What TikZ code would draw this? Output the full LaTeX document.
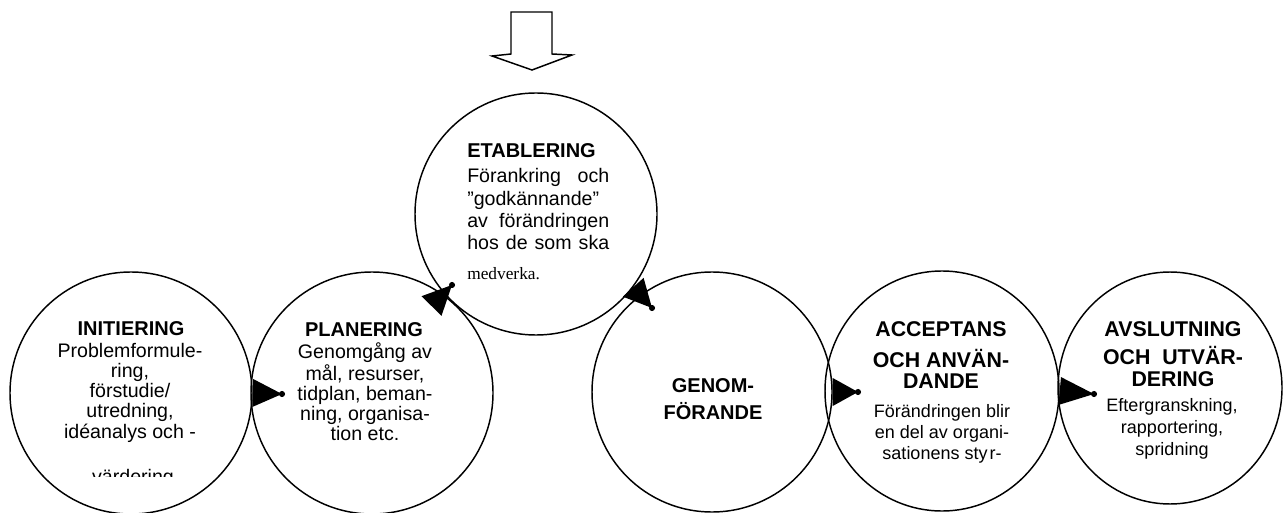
\documentclass[tikz,border=0pt]{standalone}
\usepackage{fontspec}
\setmainfont{Liberation Sans}
\newfontfamily\serifface{Liberation Serif}
\usetikzlibrary{shapes.geometric,calc}

% stacked lines, baseline of the node = baseline of the first line
\newcommand\clines[1]{\begin{tabular}[t]{@{}c@{}}#1\end{tabular}}
\newcommand\llines[1]{\begin{tabular}[t]{@{}l@{}}#1\end{tabular}}
% filled triangle from a base centre to a tip, with a dot at the tip
\newcommand\flowtri[2]{%
  \fill ($(#1)!10.5pt!90:(#2)$) -- ($(#1)!10.5pt!-90:(#2)$) -- (#2) -- cycle;
  \fill (#2) circle (2.3pt);
}

\tikzset{
  phase/.style={draw, ellipse, line width=1.1pt, inner sep=0pt},
  ttl/.style={font=\fontsize{15}{15}\selectfont\bfseries, inner sep=0pt},
  bigttl/.style={font=\fontsize{16}{15.75}\selectfont\bfseries, inner sep=0pt},
  txt/.style={font=\fontsize{14.7}{14.85}\selectfont, inner sep=0pt},
  smalltxt/.style={font=\fontsize{13.5}{15.75}\selectfont, inner sep=0pt},
  inarrow/.style={draw, line width=1.1pt, line join=miter, fill=white},
}

\begin{document}
\begin{tikzpicture}[x=0.75pt, y=-0.75pt]
\clip (0,0) rectangle (1284,513);

% the six phases
\node[phase, minimum width=181.5pt, minimum height=181.5pt] (ini) at (131,393) {};
\node[phase, minimum width=181.5pt, minimum height=181.5pt] (pla) at (372,393) {};
\node[phase, minimum width=181.5pt, minimum height=181.5pt] (eta) at (536,214) {};
\node[phase, minimum width=180pt, minimum height=180pt] (gen) at (712,392) {};
\node[phase, minimum width=175.5pt, minimum height=180pt] (acc) at (942,391) {};
\node[phase, minimum width=168pt, minimum height=174pt] (avs) at (1170,388) {};

% hollow arrow pointing down into the top phase
\draw[inarrow] (511,12) -- (552,12) -- (552,54) -- (572,55) -- (532,70)
  -- (492,56) -- (511,54) -- cycle;

% INITIERING
\node[ttl, anchor=base] (ini-t) at (131,335) {INITIERING};
\node[txt, anchor=base] (ini-b) at (130,357.5)
  {\clines{Problemformule-\\ring,\\förstudie/\\utredning,\\idéanalys och -}};
\begin{scope}
  \clip (60,462) rectangle (200,476);
  \node[txt, anchor=base] (ini-c) at (133,483) {värdering};
\end{scope}

% PLANERING
\node[ttl, anchor=base] (pla-t) at (364,336) {PLANERING};
\node[txt, font=\fontsize{14.7}{15}\selectfont, anchor=base] (pla-b) at (365,358.5)
  {\clines{Genomgång av\\mål, resurser,\\tidplan, beman-\\ning, organisa-\\tion etc.}};

% ETABLERING
\node[ttl, anchor=base west] (eta-t) at (467,158) {ETABLERING};
\node[txt, font=\fontsize{14.7}{16.7}\selectfont, anchor=base west] (eta-b) at (467,183)
  {\llines{\makebox[106.5pt][s]{Förankring och}\\
   ”godkännande”\\
   \makebox[106.5pt][s]{av förändringen}\\
   \makebox[106.5pt][s]{hos de som ska}\\[5.4pt]
   {\serifface\fontsize{13}{15}\selectfont medverka.}}};

% GENOMFÖRANDE
\node[ttl, font=\fontsize{15}{20.25}\selectfont\bfseries, anchor=base] (gen-t) at (713,392)
  {\clines{GENOM-\\FÖRANDE}};

% ACCEPTANS OCH ANVÄNDANDE
\node[bigttl, anchor=base] (acc-t) at (941,336)
  {\clines{ACCEPTANS\\[5.25pt]OCH ANVÄN-\\DANDE}};
\node[smalltxt, anchor=base] (acc-b) at (942,417)
  {\clines{Förändringen blir\\en del av organi-\\sationens sty\kern1.5pt r-}};

% AVSLUTNING OCH UTVÄRDERING
\node[bigttl, font=\fontsize{16}{16.5}\selectfont\bfseries, anchor=base] (avs-t) at (1173,336)
  {\clines{AVSLUTNING\\[3pt]OCH\ \ UTVÄR-\\DERING}};
\node[smalltxt, font=\fontsize{13.5}{16.5}\selectfont, anchor=base] (avs-b) at (1172,411.5)
  {\clines{Eftergranskning,\\rapportering,\\spridning}};

% flow between the phases
\coordinate (d1) at (282,394);
\coordinate (d2) at (452,285);
\coordinate (d3) at (652,308);
\coordinate (d4) at (858,392);
\coordinate (d5) at (1094,394);
\coordinate (s2) at (431.5,306);
\flowtri{ini.east}{d1}
\flowtri{s2}{d2}
\flowtri{eta.-37}{d3}
\flowtri{gen.east}{d4}
\flowtri{acc.east}{d5}
\end{tikzpicture}
\end{document}
